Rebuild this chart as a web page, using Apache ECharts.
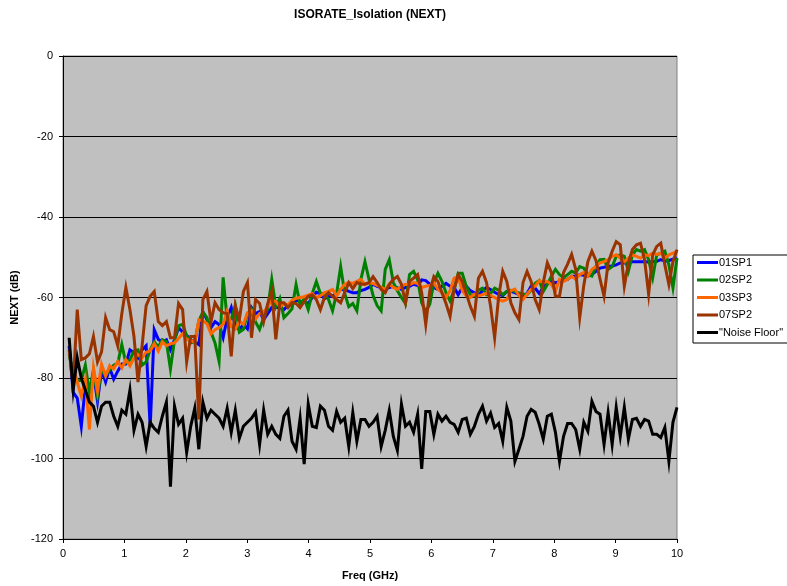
<!DOCTYPE html>
<html>
<head>
<meta charset="utf-8">
<title>ISORATE_Isolation (NEXT)</title>
<script src="https://cdn.jsdelivr.net/npm/echarts@6/dist/echarts.min.js"></script>
<style>
  html, body { margin: 0; padding: 0; background: #fff; }
  #chart { width: 787px; height: 586px; }
</style>
</head>
<body>
<div id="chart"></div>
<script>
// sweep: 151 points, 0.1 .. 10 GHz
const freqStart = 0.1
const freqStep = 0.066
const seriesNames = ['01SP1', '02SP2', '03SP3', '07SP2', '"Noise Floor"']
const seriesColors = ['#0000FF', '#008000', '#FF6600', '#993300', '#000000']
const xTicks = [0, 1, 2, 3, 4, 5, 6, 7, 8, 9, 10]
const yTicks = [-120, -100, -80, -60, -40, -20, 0]

const sp1 = [
  -72, -83.6, -85, -92, -82, -83, -78.7, -85.8, -78, -81,
  -77.5, -80.3, -78.3, -76.5, -76.5, -73, -73.7, -75, -73, -72,
  -92.3, -68, -70.4, -71, -70.5, -73, -70.5, -67.5, -68.6, -69.4,
  -70.5, -71, -71.7, -63.5, -65.5, -67.5, -66, -66.7, -70, -65,
  -62.5, -67, -68, -66.7, -67.8, -62.5, -64, -63.5, -65.5, -64,
  -62.5, -62.5, -62.5, -63, -62, -61.5, -60.7, -61, -61, -61.5,
  -60, -58.7, -59, -60.3, -59.8, -59.5, -59.3, -58, -58, -58.5,
  -58.8, -58.8, -58.3, -58, -57.5, -56.7, -57.2, -57.5, -58, -57.5,
  -57.2, -57.6, -58, -57.5, -57.2, -56.7, -57, -55.6, -55.8, -56.7,
  -57.5, -58, -57.2, -56.5, -57.2, -57.5, -59.3, -57.5, -57.2, -58.3,
  -58.8, -59.6, -58.3, -57.5, -58, -58.7, -59.2, -59.5, -58.5, -58.5,
  -58.8, -59.3, -59.6, -59, -57.2, -57.7, -59, -57.5, -56.5, -56,
  -56.4, -56, -55.8, -55.5, -54.7, -54.7, -54.3, -54.5, -54.7, -54.3,
  -53.5, -52.7, -52.5, -52.3, -52.2, -51.9, -51.4, -51.4, -51.2, -51.1,
  -51.1, -51.1, -51.1, -51.2, -51.1, -51, -50.6, -51, -50.8, -50.5,
  -50.2
]
const sp2 = [
  -74, -79, -80.8, -80.5, -76.8, -83.6, -78, -84.5, -77.7, -79.5,
  -78, -76.8, -76.3, -71.7, -76.3, -75.5, -73.3, -73, -76.8, -76,
  -73, -71, -72.3, -70.5, -71, -77.8, -70.5, -67, -66.7, -69.5,
  -71.3, -71, -65.8, -63.6, -65, -68.6, -71.3, -75.9, -55, -65.5,
  -65.3, -62, -68.6, -67.9, -64, -62.8, -66.1, -67.9, -65, -62.8,
  -55.5, -62.3, -60.2, -65, -64, -62.8, -56.8, -61.8, -60.2, -63,
  -59, -56, -59, -59, -60.5, -63.3, -59, -52.3, -59, -62.3,
  -61.5, -63.3, -55.5, -51.1, -55.5, -59.5, -62, -63.3, -53, -50.6,
  -56.3, -58.3, -60, -61.5, -54.3, -53.5, -55.6, -61.3, -63.5, -61.7,
  -56.3, -54, -56, -58.8, -60.9, -58, -54, -54, -57.2, -59.3,
  -59.6, -58.2, -57.7, -59.3, -59, -57.7, -58.2, -59.3, -58.5, -58.2,
  -58.5, -58.9, -59.1, -59.3, -58.2, -56.5, -55.8, -58.5, -56.8, -54.7,
  -53, -54.3, -55.1, -54.3, -53.5, -53.9, -52.3, -52.7, -54.3, -54.7,
  -52.3, -50.6, -50.5, -53, -52.3, -49.8, -49.4, -49.8, -53.5, -49.4,
  -48.1, -48.5, -48.1, -50.6, -55.1, -49.4, -49, -48.5, -51.9, -57.6,
  -50.2
]
const sp3 = [
  -76.6, -77, -81, -84.5, -80.3, -92.8, -77.5, -83.3, -76.6, -79.5,
  -77, -77.7, -75.9, -77.5, -75.4, -77, -75, -74.2, -75, -73.6,
  -73.3, -71.5, -73.3, -71, -72, -71.5, -71.3, -70.2, -69, -70.5,
  -70.5, -71.3, -65.5, -65.8, -66.5, -69, -68, -67.5, -66.7, -63.3,
  -67.2, -67.9, -65.8, -66.7, -63.8, -63.3, -65.3, -64, -63.6, -62.3,
  -60.7, -61, -62.3, -61.5, -61.8, -60.7, -60.2, -60, -59.8, -59.4,
  -59, -60, -59.6, -58.8, -58.5, -58, -59.6, -58, -56.7, -56.3,
  -56.5, -56, -55.5, -56.8, -56.3, -56.5, -57, -57.5, -58, -56.7,
  -57.5, -58, -57.2, -56.7, -56.8, -56.3, -56.5, -57.5, -57.2, -57,
  -56.3, -58, -58.8, -60, -58.3, -55.2, -54.8, -58.3, -59.6, -60,
  -59.2, -59.6, -59.3, -59, -59.5, -60, -60.5, -60.9, -60.5, -58.3,
  -57.9, -59.6, -60.5, -59.2, -57.9, -57.2, -55.8, -56.3, -56, -56.8,
  -58.4, -55.5, -56, -55.5, -54.7, -55.5, -54.3, -53.8, -54.7, -53,
  -52.3, -51.4, -51.1, -50.6, -49.8, -49.4, -50.2, -51.1, -50.2, -49.4,
  -49.8, -50.2, -49.4, -49.6, -49, -49.3, -49, -50.2, -49.4, -49,
  -48.5
]
const sp7 = [
  -73, -82, -63, -75.4, -75, -74, -69.7, -76, -73.5, -65,
  -68, -68.5, -72, -64, -57.5, -63, -69.7, -81, -72, -62,
  -59.7, -58.5, -66, -67, -66, -70, -70, -61.5, -63, -76,
  -69.7, -69.7, -90.3, -60.5, -58.5, -66, -61.3, -63, -63.8, -64,
  -74.6, -62, -65.5, -58.5, -56.3, -70, -60.5, -61.5, -66, -61.5,
  -58.5, -70.4, -61.3, -61.3, -62.5, -61.3, -61.5, -62.5, -61, -59.7,
  -59.3, -60.5, -63, -60, -58.8, -59.7, -60.5, -61.3, -58.8, -56.3,
  -57.8, -56.3, -56.7, -56.7, -56.3, -54.8, -56.3, -58, -58.8, -56.7,
  -55.5, -54.8, -56.7, -61.3, -56, -55.2, -54.3, -58.8, -66.7, -58.3,
  -54.8, -56, -58.8, -61.5, -64.7, -58, -54.3, -56, -59, -62.2,
  -64.7, -55.2, -53.5, -56.3, -62.2, -70, -59.7, -53.5, -56, -61.3,
  -63.8, -65.5, -56.3, -53.5, -56, -60.5, -63, -56.3, -51.4, -53.8,
  -59.7, -59.7, -53.8, -51.7, -49.3, -53, -65, -57, -51.1, -48.5,
  -50.8, -55.4, -59.7, -51.4, -48.5, -46.1, -46.9, -57.2, -51.4, -48.1,
  -46.9, -46.5, -50.6, -59.2, -49.4, -47.3, -46.5, -51.9, -56.8, -51.1,
  -48.1
]
const noiseFloor = [
  -70, -83, -75, -80, -83, -86, -87, -91, -87, -86,
  -86, -89.5, -92, -88, -89, -83, -93, -89, -91, -97,
  -91, -92.5, -93.5, -89.5, -86, -107, -87, -91.5, -90, -98.5,
  -92, -87.5, -97.7, -86, -90, -88, -89, -90, -92, -87.5,
  -93.5, -88, -95, -92, -91, -90, -88.5, -96.5, -88, -94,
  -92, -94, -95, -89.5, -88, -95.7, -97.7, -90, -101.4, -86.5,
  -92, -92.3, -87, -88, -92, -93, -88.3, -91, -90, -97,
  -88.6, -95.7, -90.3, -90.3, -92, -91, -89.5, -97, -93, -88,
  -94.5, -98, -86.5, -92, -91, -93.5, -89, -102.6, -88.3, -88.3,
  -94, -89, -90.7, -89.5, -91, -91.5, -93.5, -90.3, -90, -94,
  -92, -89, -87, -90.7, -88.7, -92.3, -91.3, -95.7, -87.3, -90.7,
  -100.7, -97.7, -94.5, -89.5, -87.8, -88.5, -91.5, -95.2, -89.5, -89,
  -93.5, -100.7, -94.5, -91.3, -91.3, -92.8, -97.7, -91, -93.2, -85.8,
  -88.3, -89, -96.5, -88.6, -96.5, -87.3, -94.5, -87.3, -95.2, -90.3,
  -90, -92, -90.3, -90.7, -94, -94, -94.8, -92.3, -100.7, -91,
  -87.3
]

const font = "'Liberation Sans', Arial, sans-serif"
const allValues = [sp1, sp2, sp3, sp7, noiseFloor]

const toPairs = (vals) =>
  vals.map((v, i) => [+(freqStart + i * freqStep).toFixed(3), v])

const option = {
  animation: false,
  textStyle: { fontFamily: font },
  title: {
    text: 'ISORATE_Isolation (NEXT)',
    left: 370,
    top: 9,
    padding: 0,
    textAlign: 'center',
    textStyle: { fontSize: 12, fontWeight: 'bold', color: '#000', fontFamily: font }
  },
  legend: {
    orient: 'vertical',
    left: 693,
    top: 255,
    padding: [2, 30, 5, 4],
    itemGap: 6.5,
    itemWidth: 21,
    itemHeight: 3,
    icon: 'rect',
    backgroundColor: '#fff',
    borderColor: '#000',
    borderWidth: 1,
    borderRadius: 0,
    data: seriesNames,
    textStyle: { fontSize: 11, color: '#000', fontFamily: font, padding: [0, 0, 0, -4] }
  },
  grid: {
    left: 63,
    right: 110,
    top: 56,
    bottom: 46,
    show: true,
    backgroundColor: '#C0C0C0',
    borderColor: '#808080',
    borderWidth: 1
  },
  xAxis: {
    type: 'value',
    min: xTicks[0],
    max: xTicks[xTicks.length - 1],
    interval: 1,
    name: 'Freq (GHz)',
    nameLocation: 'middle',
    nameGap: 31,
    nameTextStyle: { fontSize: 11, fontWeight: 'bold', color: '#000', fontFamily: font },
    axisLine: { onZero: false, lineStyle: { color: '#000', width: 1 } },
    axisTick: { show: true, length: 4, lineStyle: { color: '#000' } },
    axisLabel: { fontSize: 11, color: '#000', margin: 9, fontFamily: font },
    splitLine: { show: false }
  },
  yAxis: {
    type: 'value',
    min: yTicks[0],
    max: yTicks[yTicks.length - 1],
    interval: 20,
    name: 'NEXT (dB)',
    nameLocation: 'middle',
    nameGap: 39,
    nameRotate: 90,
    nameTextStyle: { fontSize: 11, fontWeight: 'bold', color: '#000', fontFamily: font },
    axisLine: { show: true, lineStyle: { color: '#000', width: 1 } },
    axisTick: { show: true, length: 4, lineStyle: { color: '#000' } },
    axisLabel: { fontSize: 11, color: '#000', margin: 10, fontFamily: font },
    splitLine: { show: true, lineStyle: { color: '#000', width: 1 } }
  },
  series: seriesNames.map((name, k) => ({
    name: name,
    type: 'line',
    data: toPairs(allValues[k]),
    showSymbol: false,
    symbol: 'none',
    color: seriesColors[k],
    lineStyle: { width: 3, color: seriesColors[k], join: 'miter' },
    z: 2 + k
  }))
}

const chart = echarts.init(document.getElementById('chart'), null, { renderer: 'canvas' })
option && chart.setOption(option)
</script>
</body>
</html>
